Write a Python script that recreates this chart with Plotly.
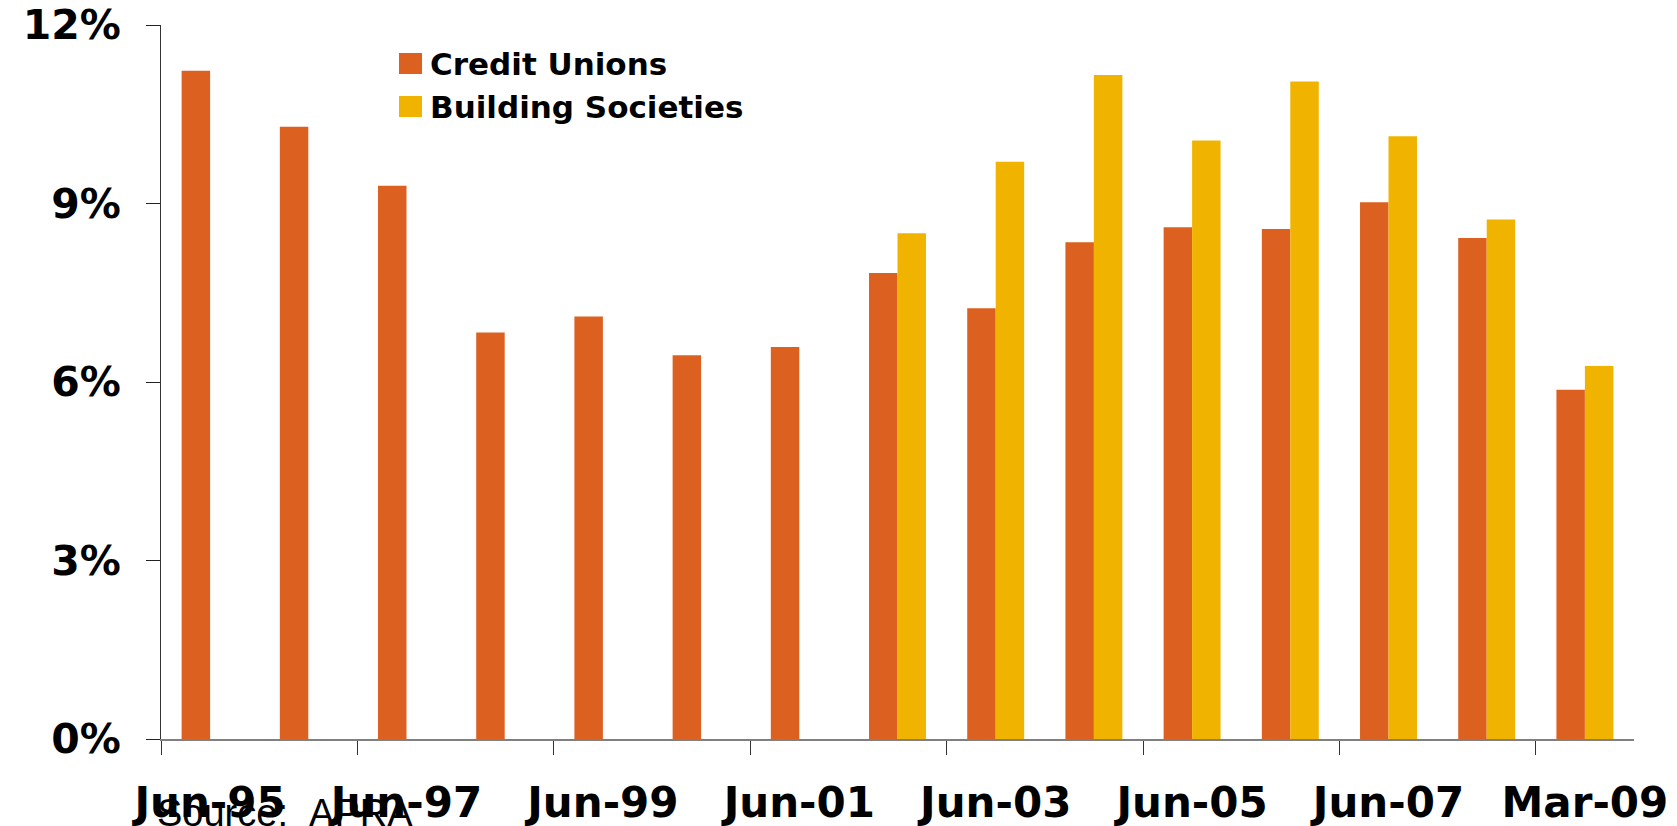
import plotly.graph_objects as go

# Periods shown along the category axis
periods = ["Jun-95", "Jun-96", "Jun-97", "Jun-98", "Jun-99", "Jun-00", "Jun-01",
           "Jun-02", "Jun-03", "Jun-04", "Jun-05", "Jun-06", "Jun-07", "Jun-08",
           "Mar-09"]

# Ratios (%) for each institution type; building societies start in 2002
credit_unions = [11.23, 10.29, 9.30, 6.83, 7.10, 6.45, 6.59,
                 7.83, 7.24, 8.35, 8.60, 8.57, 9.02, 8.42, 5.87]
building_societies = [None, None, None, None, None, None, None,
                      8.50, 9.70, 11.16, 10.06, 11.05, 10.13, 8.73, 6.27]

series_names = ["Credit Unions", "Building Societies"]
series_colors = ["#DC6120", "#F0B400"]

y_ticks = [0, 3, 6, 9, 12]
y_tick_text = ["0%", "3%", "6%", "9%", "12%"]

W, H = 1677, 826
M_L, M_R, M_T, M_B = 161, 43, 25, 87
PW, PH = W - M_L - M_R, H - M_T - M_B


def px_x(px):
    return (px - M_L) / PW


def px_y(py):
    return (H - M_B - py) / PH


BOLD = dict(family="DejaVu Sans", weight="bold", color="#000000")

fig = go.Figure()
for name, vals, col in zip(series_names, [credit_unions, building_societies], series_colors):
    fig.add_trace(go.Bar(x=periods, y=vals, name=name, marker_color=col,
                         marker_line_width=0, showlegend=False))

# Legend drawn as colour swatches plus bold labels
legend_rows = [(53, 74), (96, 117)]
for (top, bot), name, col in zip(legend_rows, series_names, series_colors):
    fig.add_shape(type="rect", xref="paper", yref="paper",
                  x0=px_x(399), x1=px_x(422), y0=px_y(bot), y1=px_y(top),
                  fillcolor=col, line_width=0)
    fig.add_annotation(text=name, xref="paper", yref="paper",
                       x=px_x(428), y=px_y((top + bot) / 2), xanchor="left",
                       yanchor="middle", showarrow=False,
                       font=dict(BOLD, size=31))

fig.add_annotation(text="Source:\u00a0\u00a0APRA", xref="paper", yref="paper",
                   x=px_x(155), y=px_y(790), xanchor="left", yanchor="top",
                   showarrow=False,
                   font=dict(family="Liberation Sans", size=38, color="#000000"))

fig.update_layout(
    width=W, height=H,
    margin=dict(l=M_L, r=M_R, t=M_T, b=M_B),
    paper_bgcolor="white", plot_bgcolor="white",
    barmode="group", bargap=0.42, bargroupgap=0,
    xaxis=dict(type="category", range=[-0.5, 14.5], tickmode="linear",
               tick0=0, dtick=2, tickson="boundaries", ticks="outside",
               ticklen=14, tickwidth=1, tickcolor="#333333", tickangle=0,
               automargin=False, ticklabelstandoff=26,
               showline=True, linecolor="#808080", linewidth=2,
               showgrid=False, tickfont=dict(BOLD, size=42)),
    yaxis=dict(range=[0, 12], tickvals=y_ticks, ticktext=y_tick_text,
               ticks="outside", ticklen=14, tickwidth=1, tickcolor="#222222",
               automargin=False,
               showline=True, linecolor="#333333", linewidth=1,
               showgrid=False, zeroline=False, ticklabelstandoff=17,
               tickfont=dict(BOLD, size=41)),
)

fig.write_html("out.html")
